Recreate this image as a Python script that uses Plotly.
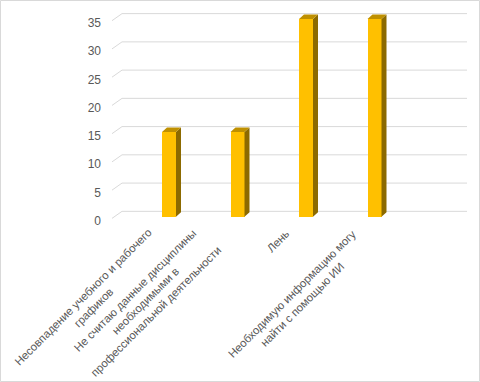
import plotly.graph_objects as go

# ---------------- data ----------------
categories = [
    "Несовпадение учебного и рабочего графиков",
    "Не считаю данные дисциплины необходимыми в профессиональной деятельности",
    "Лень",
    "Необходимую информацию могу найти с помощью ИИ",
]
tick_labels = [
    "Несовпадение учебного и рабочего<br>графиков",
    "Не считаю данные дисциплины<br>необходимыми в<br>профессиональной деятельности",
    "Лень",
    "Необходимую информацию могу<br>найти с помощью ИИ",
]
values = [15, 15, 35, 35]
y_ticks = [0, 5, 10, 15, 20, 25, 30, 35]

# ---------------- layout constants ----------------
W, H = 480, 382
PLOT_L, PLOT_R = 112, 467          # pixel x of plot area
PLOT_T, PLOT_B = 10, 226           # pixel y of plot area
X0_PX, PX_PER_CAT = 169, 68.5      # pixel x of first category, spacing
Y0_PX, PX_PER_UNIT = 216.7, 5.649  # pixel y of value 0, px per unit
BAR_W = 14 / PX_PER_CAT
BAR_DX = 5 / PX_PER_CAT
BAR_DY = 4.5 / PX_PER_UNIT
WALL_DX = 10 / PX_PER_CAT
WALL_DY_BACK = 0.95
WALL_DY_FRONT = -0.3

FRONT = "#FFC000"
SIDE = "#8C6A00"
TOP = "#BF9000"
GRID = "#D9D9D9"
TXT = "#595959"
FONT = "Liberation Sans"

x_range = [(PLOT_L - X0_PX) / PX_PER_CAT, (PLOT_R - X0_PX) / PX_PER_CAT]
y_range = [(Y0_PX - PLOT_B) / PX_PER_UNIT, (Y0_PX - PLOT_T) / PX_PER_UNIT]

# label placement (pixel shifts of rotated label centres from category/zero)
label_dx = [-81, -92, -28, -77.5]
label_dy = [-85.3, -84, -24.3, -82.8]

fig = go.Figure()
xs = list(range(len(values)))

fig.add_trace(go.Bar(x=xs, y=values, width=BAR_W, marker_color=FRONT,
                     marker_line_width=0, hoverinfo="skip", showlegend=False))

for i, v in zip(xs, values):
    xl, xr = i - BAR_W / 2, i + BAR_W / 2
    fig.add_trace(go.Scatter(
        x=[xr, xr + BAR_DX, xr + BAR_DX, xr, xr],
        y=[0, BAR_DY, v + BAR_DY, v, 0],
        fill="toself", fillcolor=SIDE, mode="lines", line=dict(width=0),
        hoverinfo="skip", showlegend=False))
    fig.add_trace(go.Scatter(
        x=[xl, xr, xr + BAR_DX, xl + BAR_DX, xl],
        y=[v, v, v + BAR_DY, v + BAR_DY, v],
        fill="toself", fillcolor=TOP, mode="lines", line=dict(width=0),
        hoverinfo="skip", showlegend=False))

shapes = []
x_left = x_range[0]
for t in y_ticks:
    shapes.append(dict(type="line", xref="x", yref="y", layer="below",
                       x0=x_left, y0=t + WALL_DY_FRONT,
                       x1=x_left + WALL_DX, y1=t + WALL_DY_BACK,
                       line=dict(color=GRID, width=1)))
    shapes.append(dict(type="line", xref="x", yref="y", layer="below",
                       x0=x_left + WALL_DX, y0=t + WALL_DY_BACK,
                       x1=x_range[1], y1=t + WALL_DY_BACK,
                       line=dict(color=GRID, width=1)))

# chart border (paper coords computed from pixels)
pw = PLOT_R - PLOT_L
ph = PLOT_B - PLOT_T
def px2paper_x(px):
    return (px - PLOT_L) / pw
def px2paper_y(py):
    return (PLOT_B - py) / ph
shapes.append(dict(type="rect", xref="paper", yref="paper",
                   x0=px2paper_x(0.5), x1=px2paper_x(W - 0.5),
                   y0=px2paper_y(H - 0.5), y1=px2paper_y(0.5),
                   line=dict(color=GRID, width=1), fillcolor="rgba(0,0,0,0)"))

annotations = []
for i, lab in enumerate(tick_labels):
    annotations.append(dict(
        x=i, y=0, xref="x", yref="y", text=lab, showarrow=False,
        textangle=-45, align="center", xanchor="center", yanchor="middle",
        xshift=label_dx[i], yshift=label_dy[i],
        font=dict(family=FONT, size=11.4, color=TXT)))

fig.update_layout(
    width=W, height=H,
    margin=dict(l=PLOT_L, r=W - PLOT_R, t=PLOT_T, b=H - PLOT_B, pad=0),
    paper_bgcolor="white", plot_bgcolor="white",
    shapes=shapes, annotations=annotations,
    xaxis=dict(range=x_range, showgrid=False, zeroline=False,
               showticklabels=False, ticks="", fixedrange=True),
    yaxis=dict(range=y_range, tickvals=y_ticks, showgrid=False,
               zeroline=False, ticks="", ticklabelstandoff=10,
               ticklabelshift=4, fixedrange=True,
               tickfont=dict(family=FONT, size=12, color=TXT)),
    bargap=0,
)

fig.write_html("out.html", config={"displayModeBar": False},
               post_script="document.body.style.margin='0';document.body.style.overflow='hidden';")
